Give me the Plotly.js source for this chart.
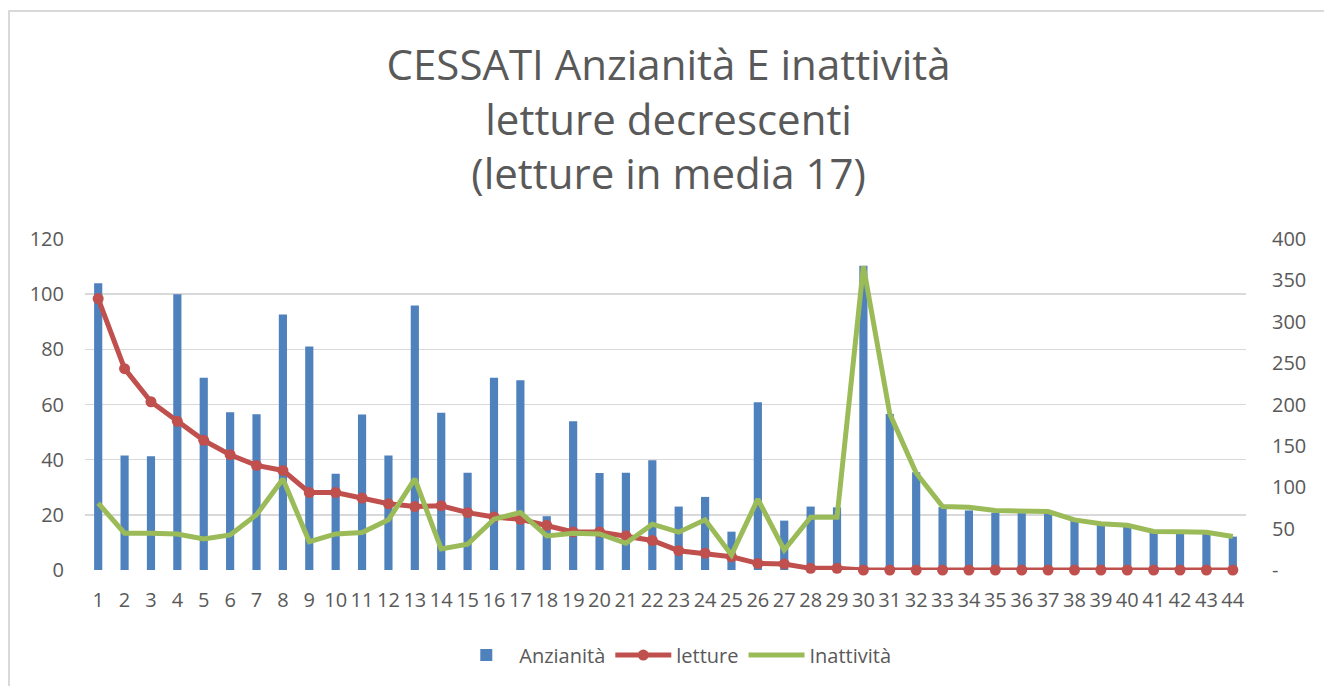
<!DOCTYPE html>
<html>
<head>
<meta charset="utf-8">
<script src="https://cdn.plot.ly/plotly-3.0.1.min.js"></script>
<style>
html,body{margin:0;padding:0;background:#fff;overflow:hidden;}
#chart{position:absolute;left:0;top:0;width:1324px;height:686px;}
#frame{position:absolute;left:8px;top:10px;width:1400px;height:800px;border-left:2px solid #d9d9d9;border-top:2px solid #d9d9d9;pointer-events:none;}
</style>
</head>
<body>
<div id="chart"></div>
<div id="frame"></div>
<script>
const categories = ["1","2","3","4","5","6","7","8","9","10","11","12","13","14","15","16","17","18","19","20","21","22","23","24","25","26","27","28","29","30","31","32","33","34","35","36","37","38","39","40","41","42","43","44"];
const anzianita = [104,41.5,41.2,100,69.7,57.2,56.5,92.6,81,34.9,56.4,41.5,95.9,57,35.3,69.7,68.8,19.5,53.9,35.2,35.3,39.8,23,26.5,13.9,60.8,17.9,23,22.7,110.3,56.6,35.4,22.8,21.6,20.8,21.2,21.2,18.2,16.7,16.2,13.9,13.8,13.7,12.1];
const letture = [98.4,73,61,53.9,47,41.8,37.9,36.1,28.1,28.1,26.1,24,23,23.3,20.8,19.2,18.4,16.2,13.8,13.8,12.4,10.7,7,6.1,4.8,2.4,2.2,0.6,0.6,0,0,0,0,0,0,0,0,0,0,0,0,0,0,0];
const inattivita = [80.8,44.4,44.4,43.6,37.6,42.4,66.7,109.9,34.3,43.6,45.3,60.6,110,25.5,31.1,61.4,69.5,41.2,44.4,43.6,32.3,55.4,45.7,60.6,18.2,85.7,24.2,63.8,63.8,367,188.7,117.2,76.8,75.9,71.9,70.7,70.7,60.6,55.8,54.1,46.5,46.1,45.7,40.4];
const leftTicks = [0,20,40,60,80,100,120];
const rightTickVals = [0,50,100,150,200,250,300,350,400];
const rightTickText = ["-","50","100","150","200","250","300","350","400"];

const FONT = "Open Sans, Noto Sans, sans-serif";
const GREY = "#595959";

const traces = [
  {type:"bar", name:"Anzianità", x:categories, y:anzianita, marker:{color:"#4F81BD"}, yaxis:"y"},
  {type:"scatter", mode:"lines+markers", name:"letture", x:categories, y:letture, yaxis:"y", cliponaxis:false,
   line:{color:"#C0504D", width:5}, marker:{color:"#C0504D", size:11}},
  {type:"scatter", mode:"lines", name:"Inattività", x:categories, y:inattivita, yaxis:"y2", cliponaxis:false,
   line:{color:"#9BBB59", width:5}}
];

const layout = {
  width:1324, height:686,
  margin:{l:85, r:78, t:239, b:116},
  paper_bgcolor:"rgba(0,0,0,0)", plot_bgcolor:"#fff",
  font:{family:FONT, color:GREY, size:20},
  title:{text:"CESSATI Anzianità E inattività<br>letture decrescenti<br>(letture in media 17)",
         font:{family:FONT, size:42, color:GREY}, x:0.505, xanchor:"center",
         yref:"container", y:1-80/686, yanchor:"middle"},
  bargap:0.69,
  xaxis:{type:"category", range:[-0.5,43.5], autorange:false, tickangle:0, showgrid:false, zeroline:false, showline:false,
         tickfont:{size:20, color:GREY}, ticklabelstandoff:16},
  yaxis:{range:[0,120], tickvals:leftTicks, showgrid:true, gridcolor:"#D9D9D9", gridwidth:1.5,
         zeroline:false, showline:false, tickfont:{size:20, color:GREY}, ticklabelstandoff:20},
  yaxis2:{range:[0,400], overlaying:"y", side:"right", tickvals:rightTickVals, ticktext:rightTickText,
          showgrid:false, zeroline:false, showline:false, tickfont:{size:20, color:GREY}, ticklabelstandoff:25},
  legend:{orientation:"h", x:0.508, xanchor:"center", y:-0.257, yanchor:"middle",
          font:{size:20, color:GREY}, traceorder:"normal", itemwidth:56},
  showlegend:true
};

Plotly.newPlot("chart", traces, layout, {displayModeBar:false, staticPlot:true});
</script>
</body>
</html>
